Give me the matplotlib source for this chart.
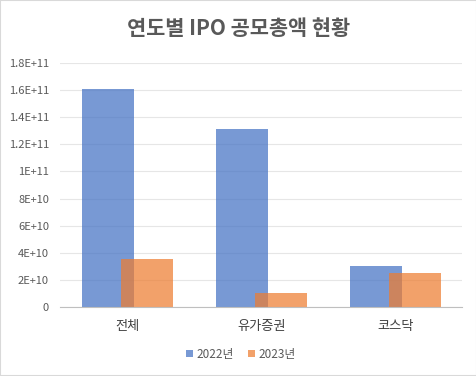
import matplotlib
matplotlib.use("Agg")
import matplotlib.pyplot as plt
import numpy as np
from matplotlib.ticker import FuncFormatter
from matplotlib.patches import Rectangle

plt.rcParams['font.family'] = ['Noto Sans CJK KR', 'DejaVu Sans']

categories = ['전체', '유가증권', '코스닥']
series_names = ['2022년', '2023년']
vals_2022 = [1.61e11, 1.315e11, 3.0e10]
vals_2023 = [3.54e10, 1.0e10, 2.53e10]
colors = ['#4472C4', '#ED7D31']

fig = plt.figure(figsize=(4.77, 3.76), dpi=100)
ax = fig.add_axes([0.126, 0.1835, 0.843, 0.649])

x = np.arange(len(categories))
w = 0.388
off = 0.1455
ax.bar(x - off, vals_2022, w, color=colors[0], alpha=0.72, label=series_names[0], zorder=2)
ax.bar(x + off, vals_2023, w, color=colors[1], alpha=0.72, label=series_names[1], zorder=3)

ax.set_xlim(-0.5, 2.5)
ax.set_ylim(0, 1.8e11)
ax.set_yticks(np.arange(0, 1.81e11, 2e10))


def fmt(v, pos):
    if v == 0:
        return '0'
    e = int(np.floor(np.log10(v) + 1e-9))
    m = v / 10 ** e
    ms = ('%.1f' % m).rstrip('0').rstrip('.')
    return '%sE+%d' % (ms, e)


ax.yaxis.set_major_formatter(FuncFormatter(fmt))
ax.set_xticks(x)
ax.set_xticklabels(categories, fontsize=9.5, color='#404040')
ax.tick_params(axis='y', labelsize=8, colors='#595959', length=0, pad=8)
ax.tick_params(axis='x', length=0, pad=9)
ax.grid(axis='y', color='#E6E6E6', linewidth=0.8, zorder=0)
for s in ['top', 'right', 'left']:
    ax.spines[s].set_visible(False)
ax.spines['bottom'].set_color('#BFBFBF')
ax.spines['bottom'].set_zorder(4)

fig.text(0.5, 0.923, '연도별 IPO 공모총액 현황', ha='center', va='center',
         fontsize=15, color='#595959', fontweight='bold')

leg = fig.legend(loc='center', bbox_to_anchor=(0.505, 0.058), ncol=2, frameon=False,
                 fontsize=8.5, handlelength=0.6, handleheight=0.6, handletextpad=0.3,
                 columnspacing=1.2)
for t in leg.get_texts():
    t.set_color('#595959')

fig.patches.append(Rectangle((0, 0), 1, 1, transform=fig.transFigure, fill=False,
                             edgecolor='#D9D9D9', linewidth=1.5))

fig.savefig('out.png', dpi=100)
